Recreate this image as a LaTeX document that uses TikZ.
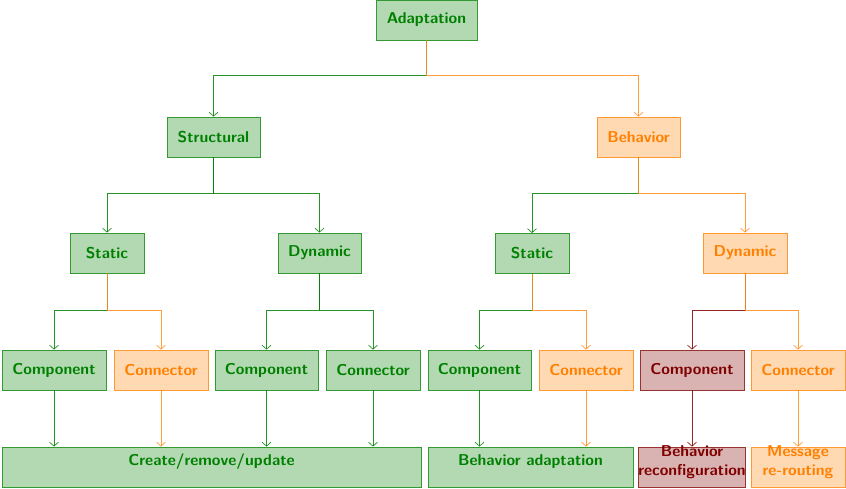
\documentclass[tikz,border=0pt]{standalone}
\usetikzlibrary{arrows.meta}
\definecolor{gdark}{rgb}{0,0.5,0}
\definecolor{odark}{rgb}{1,0.5,0}
\definecolor{rdark}{rgb}{0.5,0,0}
\tikzset{
  box/.style={draw, line width=0.8pt, inner sep=0pt, minimum height=40pt,
    font=\fontsize{15.7}{19}\selectfont\sffamily\bfseries, align=center},
  gbox/.style={box, draw=gdark!80, fill=gdark!30, text=gdark},
  obox/.style={box, draw=odark!80, fill=odark!30, text=odark},
  rbox/.style={box, draw=rdark!80, fill=rdark!30, text=rdark},
  up/.style={text height=12pt, text depth=15pt},
  edge/.style={-{Straight Barb[length=4pt,width=9pt]}, line width=0.7pt, draw opacity=0.85},
  gedge/.style={edge, draw=gdark},
  oedge/.style={edge, draw=odark!90},
  redge/.style={edge, draw=rdark},
}
\newcommand{\twolines}[2]{\smash{\raisebox{1.5pt}{\begin{tabular}{@{}c@{}}#1\\#2\end{tabular}}}}
\begin{document}
\begin{tikzpicture}[x=1pt,y=-1pt]
\useasboundingbox (0,0) rectangle (846,488);
% level 1
\node[gbox, minimum width=101pt] (ad) at (426.5,20) {Adaptation};
% level 2
\node[gbox, minimum width=93pt] (st) at (213.5,137) {Structural};
\node[obox, minimum width=83pt] (be) at (638.5,137) {Behavior};
% level 3
\node[gbox, minimum width=74pt] (sst) at (107,253) {Static};
\node[gbox, minimum width=83pt] (sdy) at (319.5,253) {Dynamic};
\node[gbox, minimum width=74pt] (bst) at (532,253.5) {Static};
\node[obox, minimum width=84pt] (bdy) at (745,253) {Dynamic};
% level 4
\node[gbox, minimum width=104pt] (c1) at (54,370) {Component};
\node[obox, minimum width=94pt] (n1) at (161,370) {Connector};
\node[gbox, minimum width=103pt] (c2) at (266.5,370) {Component};
\node[gbox, minimum width=94pt] (n2) at (373,370) {Connector};
\node[gbox, minimum width=103pt] (c3) at (479.5,370) {Component};
\node[obox, minimum width=94pt] (n3) at (586,370) {Connector};
\node[rbox, minimum width=104pt] (c4) at (692,370) {Component};
\node[obox, minimum width=94pt] (n4) at (798,370) {Connector};
% level 5
\node[gbox, up, minimum width=419pt] (cru) at (211.5,467) {Create/remove/update};
\node[gbox, up, minimum width=205pt] (ba) at (530.5,467) {Behavior adaptation};
\node[rbox, minimum width=104pt] (br) at (692,467) {\twolines{Behavior}{reconfiguration}};
\node[obox, minimum width=94pt] (mr) at (798,467) {\twolines{Message}{re-routing}};
% edges
\draw[gedge] (ad.south) -- ++(0,35) -| (st.north);
\draw[oedge] (ad.south) -- ++(0,35) -| (be.north);
\draw[gedge] (st.south) -- ++(0,36) -| (sst.north);
\draw[gedge] (st.south) -- ++(0,36) -| (sdy.north);
\draw[gedge] (be.south) -- ++(0,36) -| (bst.north);
\draw[oedge] (be.south) -- ++(0,36) -| (bdy.north);
\draw[gedge] (sst.south) -- ++(0,37) -| (c1.north);
\draw[oedge] (sst.south) -- ++(0,37) -| (n1.north);
\draw[gedge] (sdy.south) -- ++(0,37) -| (c2.north);
\draw[gedge] (sdy.south) -- ++(0,37) -| (n2.north);
\draw[gedge] (bst.south) -- ++(0,36.5) -| (c3.north);
\draw[oedge] (bst.south) -- ++(0,36.5) -| (n3.north);
\draw[redge] (bdy.south) -- ++(0,37) -| (c4.north);
\draw[oedge] (bdy.south) -- ++(0,37) -| (n4.north);
\draw[gedge] (c1.south) -- (c1.south |- cru.north);
\draw[oedge] (n1.south) -- (n1.south |- cru.north);
\draw[gedge] (c2.south) -- (c2.south |- cru.north);
\draw[gedge] (n2.south) -- (n2.south |- cru.north);
\draw[gedge] (c3.south) -- (c3.south |- ba.north);
\draw[oedge] (n3.south) -- (n3.south |- ba.north);
\draw[redge] (c4.south) -- (br.north);
\draw[oedge] (n4.south) -- (mr.north);
\end{tikzpicture}
\end{document}
